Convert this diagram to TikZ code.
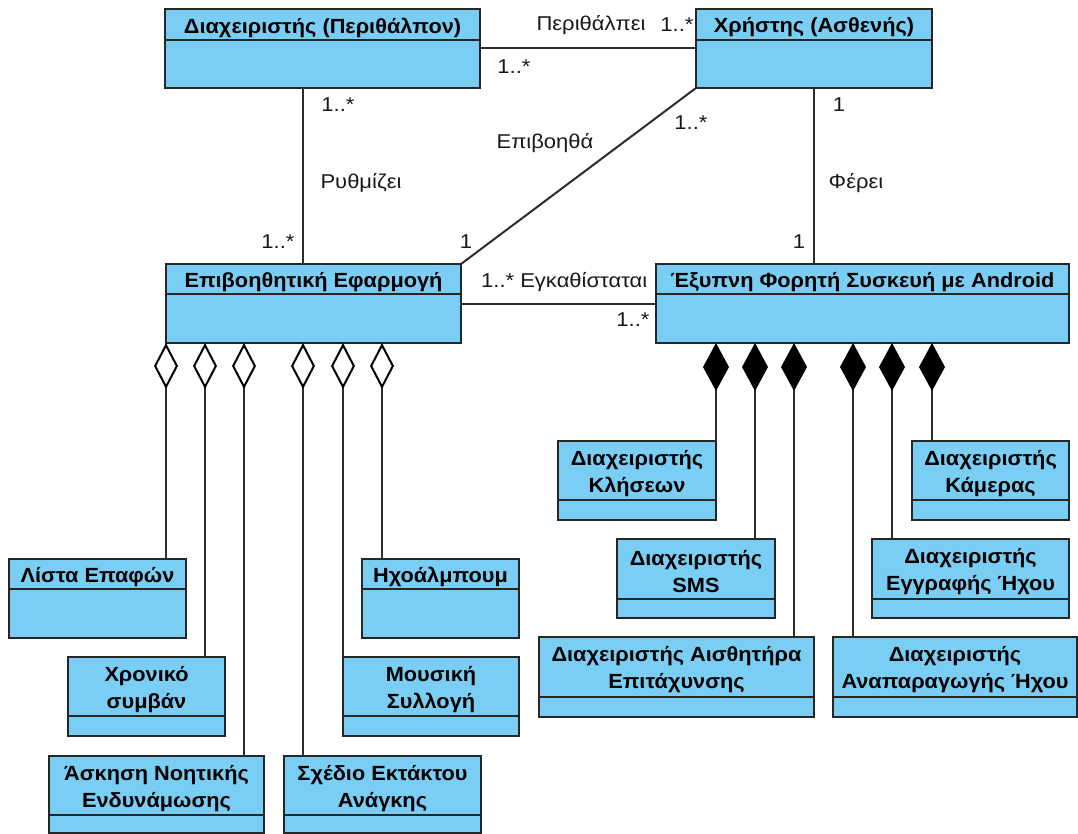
\documentclass[tikz,border=0pt]{standalone}
\usepackage{fontspec}
\setmainfont{Liberation Sans}
\newfontfamily\titlefont{Liberation Sans}[FakeStretch=1.06]
\newfontfamily\labelfont{Liberation Sans}[FakeStretch=1.10]
\usetikzlibrary{arrows.meta}

\definecolor{classfill}{RGB}{122,206,243}
\definecolor{edgegray}{RGB}{45,45,45}

% class box: name, x1, y1, x2, y2, y of header rule, title
\newcommand\umlclass[7]{%
  \node[classbox, minimum width={#4pt-#2pt}, minimum height={#5pt-#3pt}]
    (#1) at ({(#2+#4)/2},{(#3+#5)/2}) {};
  \draw[classrule] (#1.west |- 0,#6) -- (#1.east |- 0,#6);
  \node[classtitle] (#1-title) at ({(#2+#4)/2},{(#3+#6)/2+3}) {#7};
}

\begin{document}
\begin{tikzpicture}[x=1pt, y=-1pt,
  classbox/.style={draw=black!85, fill=classfill, line width=2pt, inner sep=0pt, outer sep=0pt},
  classrule/.style={draw=black!85, line width=2pt},
  classtitle/.style={font=\titlefont\bfseries\fontsize{20.5}{27}\selectfont, align=center, inner sep=0pt},
  assoc/.style={draw=edgegray, line width=2pt},
  agg/.style={assoc, {Diamond[open, length=46pt 0 0, width=24pt 0 0, line join=miter, color=black]}-},
  comp/.style={assoc, {Diamond[length=48pt 0 0, width=26pt 0 0, color=black, fill=black]}-},
  lbl/.style={font=\labelfont\fontsize{20}{22}\selectfont, inner sep=0pt, text=black!90}
]
\fill[white] (0,0) rectangle (1078,834);
\useasboundingbox (0,0) rectangle (1078,834);

% main classes
\umlclass{carer}{165}{9}{480}{88}{40}{Διαχειριστής (Περιθάλπον)}
\umlclass{user}{696}{9}{932}{88}{40}{Χρήστης (Ασθενής)}
\umlclass{app}{166}{264}{461}{343}{294}{Επιβοηθητική Εφαρμογή}
\umlclass{phone}{656}{264}{1069}{343}{294}{Έξυπνη Φορητή Συσκευή με Android}

% parts of the application
\umlclass{contacts}{9}{559}{186}{638}{589}{Λίστα Επαφών}
\umlclass{album}{362}{559}{519}{638}{589}{Ηχοάλμπουμ}
\umlclass{event}{68}{657}{225}{736}{716}{Χρονικό\\συμβάν}
\umlclass{music}{343}{657}{519}{736}{716}{Μουσική\\Συλλογή}
\umlclass{exercise}{49}{756}{264}{833}{815}{Άσκηση Νοητικής\\Ενδυνάμωσης}
\umlclass{emergency}{284}{756}{481}{833}{815}{Σχέδιο Εκτάκτου\\Ανάγκης}

% components of the device
\umlclass{calls}{558}{441}{716}{520}{500}{Διαχειριστής\\Κλήσεων}
\umlclass{camera}{912}{441}{1069}{520}{500}{Διαχειριστής\\Κάμερας}
\umlclass{sms}{617}{539}{775}{618}{599}{Διαχειριστής\\SMS}
\umlclass{rec}{872}{539}{1069}{618}{599}{Διαχειριστής\\Εγγραφής Ήχου}
\umlclass{accel}{539}{637}{814}{717}{697}{Διαχειριστής Αισθητήρα\\Επιτάχυνσης}
\umlclass{play}{833}{637}{1077}{717}{697}{Διαχειριστής\\Αναπαραγωγής Ήχου}

% associations
\coordinate (ac) at (303,0);
\draw[assoc] (carer.east) -- (carer.east -| user.west);
\draw[assoc] (ac |- carer.south) -- (ac |- app.north);
\draw[assoc] (user.south west) -- (app.north east);
\draw[assoc] (user.south) -- (user.south |- phone.north);
\draw[assoc] (app.east) -- (app.east -| phone.west);

% association labels
\node[lbl] (l1) at (591,25) {Περιθάλπει};
\node[lbl] (l2) at (677,25) {1..*};
\node[lbl] (l3) at (514,67) {1..*};
\node[lbl] (l4) at (338,105) {1..*};
\node[lbl] (l5) at (361,183) {Ρυθμίζει};
\node[lbl] (l6) at (278,242) {1..*};
\node[lbl] (l7) at (545,143) {Επιβοηθά};
\node[lbl] (l8) at (691,123) {1..*};
\node[lbl] (l9) at (466,242) {1};
\node[lbl] (l10) at (839,105) {1};
\node[lbl] (l11) at (856,183) {Φέρει};
\node[lbl] (l12) at (799,242) {1};
\node[lbl, anchor=west] (l13) at (481,282) {1..* Εγκαθίσταται};
\node[lbl] (l14) at (633,320) {1..*};

% aggregations of the application
\coordinate (g1) at (166,343);
\coordinate (g2) at (205,343);
\coordinate (g3) at (244,343);
\coordinate (g4) at (303,343);
\coordinate (g5) at (343,343);
\coordinate (g6) at (382,343);
\draw[agg] (g1) -- (g1 |- contacts.north);
\draw[agg] (g2) -- (g2 |- event.north);
\draw[agg] (g3) -- (g3 |- exercise.north);
\draw[agg] (g4) -- (g4 |- emergency.north);
\draw[agg] (g5) -- (g5 |- music.north);
\draw[agg] (g6) -- (g6 |- album.north);

% compositions of the device
\coordinate (c1) at (716,343);
\coordinate (c2) at (755,343);
\coordinate (c3) at (794,343);
\coordinate (c4) at (853,343);
\coordinate (c5) at (892,343);
\coordinate (c6) at (932,343);
\draw[comp] (c1) -- (c1 |- calls.north);
\draw[comp] (c2) -- (c2 |- sms.north);
\draw[comp] (c3) -- (c3 |- accel.north);
\draw[comp] (c4) -- (c4 |- play.north);
\draw[comp] (c5) -- (c5 |- rec.north);
\draw[comp] (c6) -- (c6 |- camera.north);
\end{tikzpicture}
\end{document}
